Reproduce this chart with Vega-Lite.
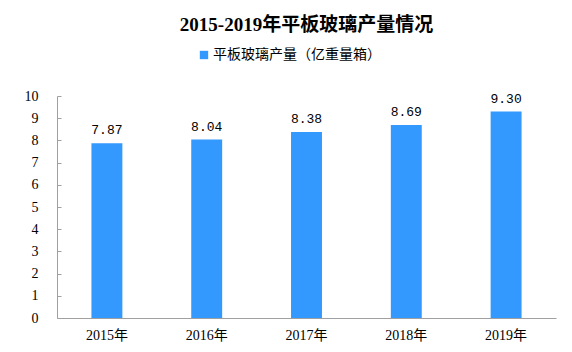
{
  "$schema": "https://vega.github.io/schema/vega-lite/v6.json",
  "width": 499,
  "height": 222,
  "autosize": {"type": "none"},
  "padding": {"left": 57, "top": 96, "right": 16, "bottom": 34},
  "background": "white",
  "title": {
    "text": "2015-2019年平板玻璃产量情况",
    "font": "Liberation Serif, Noto Sans CJK SC",
    "fontSize": 19,
    "fontWeight": "bold",
    "color": "#000000",
    "anchor": "middle",
    "offset": 13
  },
  "data": {
    "values": [
      {"year": "2015年", "value": 7.87, "series": "平板玻璃产量（亿重量箱）"},
      {"year": "2016年", "value": 8.04, "series": "平板玻璃产量（亿重量箱）"},
      {"year": "2017年", "value": 8.38, "series": "平板玻璃产量（亿重量箱）"},
      {"year": "2018年", "value": 8.69, "series": "平板玻璃产量（亿重量箱）"},
      {"year": "2019年", "value": 9.30, "series": "平板玻璃产量（亿重量箱）"}
    ]
  },
  "encoding": {
    "x": {
      "field": "year",
      "type": "nominal",
      "sort": null,
      "scale": {"paddingInner": 0.69, "paddingOuter": 0.345},
      "axis": {
        "title": null,
        "labelAngle": 0,
        "ticks": false,
        "domainColor": "#a0a0a0",
        "labelFont": "Liberation Serif, Noto Sans CJK SC",
        "labelFontSize": 14,
        "labelColor": "#000000",
        "labelPadding": 10
      }
    },
    "y": {
      "field": "value",
      "type": "quantitative",
      "scale": {"domain": [0, 10]},
      "axis": {
        "title": null,
        "grid": false,
        "values": [0,1,2,3,4,5,6,7,8,9,10],
        "labelOverlap": false,
        "domainColor": "#a0a0a0",
        "tickColor": "#a0a0a0",
        "tickSize": -4,
        "labelPadding": 23,
        "labelFont": "Liberation Serif",
        "labelFontSize": 14,
        "labelColor": "#000000"
      }
    }
  },
  "layer": [
    {
      "mark": {"type": "bar", "color": "#3399ff"},
      "encoding": {
        "color": {
          "field": "series",
          "type": "nominal",
          "scale": {"range": ["#3399ff"]},
          "legend": {
            "title": null,
            "orient": "none",
            "legendX": 140,
            "legendY": -48,
            "symbolType": "square",
            "symbolSize": 70,
            "symbolStrokeWidth": 0,
            "labelFont": "Noto Sans CJK SC",
            "labelFontSize": 14,
            "labelColor": "#000000",
            "labelOffset": 2,
            "labelLimit": 400
          }
        }
      }
    },
    {
      "mark": {
        "type": "text",
        "dy": -13,
        "font": "Liberation Mono",
        "fontSize": 13,
        "color": "#000000"
      },
      "encoding": {
        "text": {"field": "value", "type": "quantitative", "format": ".2f"}
      }
    }
  ],
  "config": {
    "view": {"stroke": null}
  }
}
